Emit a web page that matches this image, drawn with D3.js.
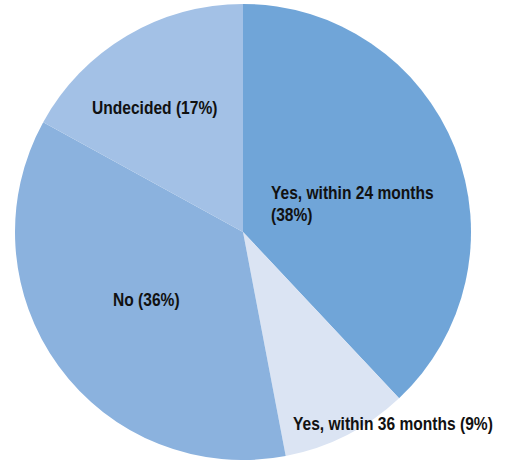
<!DOCTYPE html>
<html lang="en">
<head>
    <meta charset="UTF-8">
    <title>Pie chart</title>
    <style>
        body { margin: 0; background: #ffffff; }
        svg { display: block; }
        .label {
            font-family: "Liberation Sans", Arial, sans-serif;
            font-weight: bold;
            font-size: 19px;
            fill: #111111;
        }
    </style>
</head>
<body>
    <svg id="chart"></svg>

    <script src="https://d3js.org/d3.v7.min.js"></script>
    <script>
        // Survey answers, clockwise from 12 o'clock
        const categories = ['Yes, within 24 months', 'Yes, within 36 months', 'No', 'Undecided'];
        const shares = [38, 9, 36, 17];
        const colors = ['#70a5d8', '#dbe4f3', '#8bb2de', '#a3c1e6'];
        // label lines, and where each sits relative to the pie centre
        const labelLines = [
            ['Yes, within 24 months', '(38%)'],
            ['Yes, within 36 months (9%)'],
            ['No (36%)'],
            ['Undecided (17%)']
        ];
        const labelOffsets = [[28, -33], [50, 198], [-130, 74], [-151, -118]];

        const width = 516;
        const height = 460;
        const cx = 243;
        const cy = 232;
        const radius = 228;
        const narrow = 0.82; // condensed look for the labels

        const data = categories.map((c, i) => ({ name: c, value: shares[i], i }));

        const svg = d3.select('#chart')
            .attr('width', width)
            .attr('height', height);

        const g = svg.append('g')
            .attr('transform', `translate(${cx}, ${cy})`);

        const pie = d3.pie()
            .value(d => d.value)
            .sort(null);

        const arc = d3.arc()
            .innerRadius(0)
            .outerRadius(radius);

        g.selectAll('path')
            .data(pie(data))
            .enter()
            .append('path')
            .attr('d', arc)
            .attr('fill', d => colors[d.data.i]);

        const labels = g.selectAll('.label')
            .data(data)
            .enter()
            .append('text')
            .attr('class', 'label')
            .attr('transform', d => `translate(${labelOffsets[d.i][0]}, ${labelOffsets[d.i][1]}) scale(${narrow}, 1)`);

        labels.selectAll('tspan')
            .data(d => labelLines[d.i])
            .enter()
            .append('tspan')
            .attr('x', 0)
            .attr('dy', (d, j) => j === 0 ? 0 : 22)
            .text(d => d);
    </script>
</body>
</html>
